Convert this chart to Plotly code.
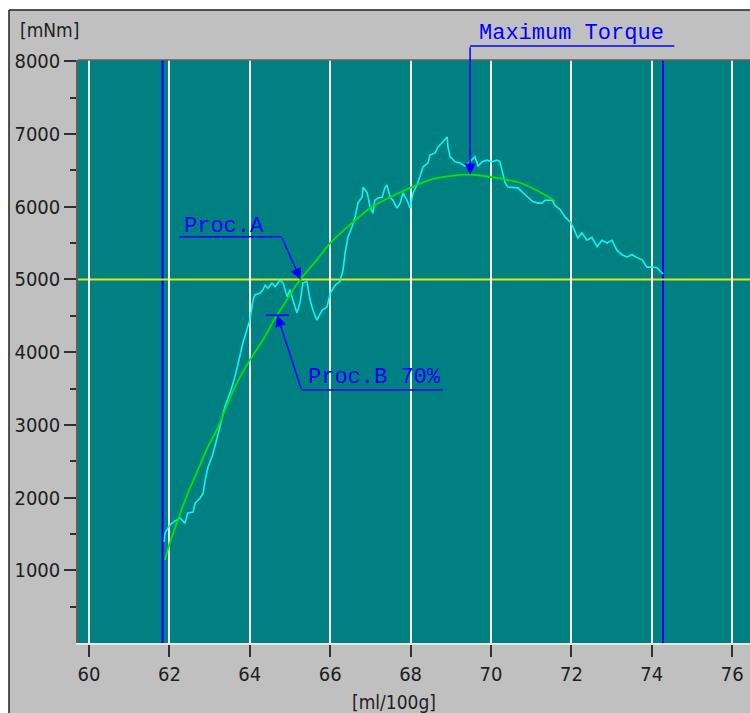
import plotly.graph_objects as go

# ---- measured torque (cyan) ----
meas_x = [61.87, 61.89, 62.01, 62.09, 62.26, 62.39, 62.46, 62.59, 62.64, 62.76,
          62.84, 62.89, 62.96, 63.06, 63.13, 63.21, 63.31, 63.38, 63.51, 63.63,
          63.83, 64.00, 64.08, 64.13, 64.25, 64.33, 64.38, 64.45, 64.55, 64.63,
          64.75, 64.83, 64.93, 65.00, 65.07, 65.17, 65.25, 65.32, 65.42, 65.50,
          65.57, 65.67, 65.80, 65.92, 66.00, 66.12, 66.24, 66.32, 66.37, 66.44,
          66.54, 66.62, 66.69, 66.79, 66.82, 66.92, 66.99, 67.06, 67.11, 67.19,
          67.29, 67.36, 67.41, 67.49, 67.56, 67.66, 67.74, 67.81, 67.91, 67.99,
          68.06, 68.16, 68.23, 68.31, 68.43, 68.48, 68.61, 68.68, 68.78, 68.91,
          68.93, 68.98, 69.10, 69.23, 69.35, 69.48, 69.60, 69.68, 69.78, 69.90,
          70.02, 70.15, 70.22, 70.27, 70.35, 70.42, 70.55, 70.67, 70.80, 70.92,
          71.04, 71.17, 71.27, 71.34, 71.42, 71.52, 71.59, 71.72, 71.84, 71.97,
          72.04, 72.16, 72.26, 72.39, 72.51, 72.64, 72.76, 72.89, 73.01, 73.13,
          73.26, 73.38, 73.51, 73.63, 73.76, 73.88, 74.00, 74.13, 74.28]
meas_y = [1390, 1510, 1620, 1660, 1720, 1650, 1790, 1800, 1925, 1990,
          2060, 2240, 2420, 2560, 2700, 2890, 3110, 3250, 3440, 3660,
          4130, 4440, 4720, 4790, 4810, 4860, 4920, 4880, 4950, 4900,
          4990, 4950, 4760, 4860, 4720, 4540, 4680, 4950, 4970, 4720,
          4580, 4440, 4580, 4620, 4810, 4920, 4970, 5130, 5360, 5580,
          5720, 5860, 6050, 6130, 6270, 6190, 6000, 5910, 6090, 6120,
          6130, 6260, 6300, 6130, 6090, 5980, 6050, 6190, 6090, 5980,
          6190, 6300, 6410, 6550, 6600, 6710, 6740, 6820, 6880, 6960,
          6820, 6690, 6620, 6600, 6560, 6620, 6690, 6560, 6620, 6640,
          6620, 6640, 6620, 6510, 6330, 6270, 6270, 6260, 6190, 6130,
          6070, 6050, 6050, 6090, 6090, 6090, 6020, 5960, 5860, 5790,
          5720, 5570, 5640, 5540, 5580, 5450, 5540, 5500, 5540, 5400,
          5340, 5310, 5340, 5300, 5270, 5170, 5170, 5160, 5075]

# ---- fitted torque curve (green) ----
fit_x = [61.89, 62.01, 62.21, 62.46, 62.71, 62.96, 63.21, 63.38, 63.63, 64.00,
         64.33, 64.58, 64.83, 65.07, 65.30, 65.67, 66.00, 66.49, 66.99, 67.49,
         67.99, 68.48, 68.98, 69.48, 70.22, 70.72, 71.22, 71.59]
fit_y = [1140, 1375, 1690, 2060, 2380, 2700, 2970, 3200, 3520, 3890,
         4170, 4420, 4640, 4850, 5030, 5270, 5500, 5750, 5980, 6130,
         6260, 6370, 6420, 6440, 6390, 6330, 6200, 6080]

# ---- reference levels ----
limit_x = [61.83, 74.28]      # blue evaluation limits
threshold = 5000              # yellow level (Proc.A)
proc_b_pct = 0.70             # Proc.B fraction of maximum torque

x_ticks = [60, 62, 64, 66, 68, 70, 72, 74, 76]
y_ticks = [1000, 2000, 3000, 4000, 5000, 6000, 7000, 8000]
y_minor = [500, 1500, 2500, 3500, 4500, 5500, 6500, 7500]

X_RANGE = [59.726, 76.443]
Y_RANGE = [0, 8018]

TEAL = "#008080"
GREY = "#c0c0c0"
BLUE = "#0000ff"
NARROW = "Liberation Sans Narrow, DejaVu Sans Condensed, Arial Narrow, Liberation Sans, sans-serif"
MONO = "Liberation Mono, Courier New, monospace"


def cross_x(xs, ys, level):
    """x where the rising part of the curve first reaches `level`."""
    for i in range(1, len(xs)):
        if ys[i - 1] <= level <= ys[i]:
            t = (level - ys[i - 1]) / (ys[i] - ys[i - 1])
            return xs[i - 1] + t * (xs[i] - xs[i - 1])
    return xs[0]


i_max = max(range(len(fit_y)), key=lambda i: fit_y[i])
max_x, max_y = fit_x[i_max], fit_y[i_max]
a_x = cross_x(fit_x, fit_y, threshold)
b_y = proc_b_pct * max_y
b_x = cross_x(fit_x, fit_y, b_y)

fig = go.Figure()

fig.add_trace(go.Scatter(x=meas_x, y=meas_y, mode="lines",
                         line=dict(color="#10f4f4", width=1.6),
                         hoverinfo="skip", showlegend=False))
fig.add_trace(go.Scatter(x=fit_x, y=fit_y, mode="lines",
                         line=dict(color="#00e600", width=1.8, shape="spline", smoothing=0.8),
                         hoverinfo="skip", showlegend=False))

shapes = []
# evaluation limits and threshold
for lx in limit_x:
    shapes.append(dict(type="line", xref="x", yref="paper", x0=lx, x1=lx, y0=0, y1=1,
                       line=dict(color=BLUE, width=2), layer="between"))
shapes.append(dict(type="line", xref="paper", yref="y", x0=0, x1=1, y0=threshold, y1=threshold,
                   line=dict(color="#e8e800", width=2), layer="between"))

# frame of the panel
shapes += [
    dict(type="rect", xref="paper", yref="paper", x0=-0.2, x1=-0.1027, y0=-0.3, y1=1.3,
         fillcolor="white", line=dict(width=0)),
    dict(type="rect", xref="paper", yref="paper", x0=-0.2, x1=1.2, y0=1.0858, y1=1.3,
         fillcolor="white", line=dict(width=0)),
    dict(type="line", xref="paper", yref="paper", x0=-0.1027, x1=-0.1027, y0=-0.3, y1=1.0858,
         line=dict(color="#202020", width=1.5)),
    dict(type="line", xref="paper", yref="paper", x0=-0.1027, x1=1.2, y0=1.0858, y1=1.0858,
         line=dict(color="#202020", width=1.5)),
    dict(type="line", xref="paper", yref="paper", x0=0, x1=1, y0=1, y1=1,
         line=dict(color="#606060", width=1.5)),
]

# callout underlines
shapes.append(dict(type="line", xref="x", yref="paper", x0=max_x, x1=74.56, y0=1.024, y1=1.024,
                   line=dict(color=BLUE, width=1.5)))
shapes.append(dict(type="line", xref="x", yref="y", x0=62.25, x1=64.79, y0=5588, y1=5588,
                   line=dict(color=BLUE, width=1.5)))
shapes.append(dict(type="line", xref="x", yref="y", x0=65.29, x1=68.80, y0=3480, y1=3480,
                   line=dict(color=BLUE, width=1.5)))
# Proc.B marker bar
shapes.append(dict(type="line", xref="x", yref="y", x0=b_x - 0.28, x1=b_x + 0.30, y0=b_y, y1=b_y,
                   line=dict(color=BLUE, width=1.5)))

annotations = [
    # arrows
    dict(x=max_x, y=max_y, xref="x", yref="y", ax=0, ay=-129, text="", showarrow=True,
         arrowhead=2, arrowsize=1.5, arrowwidth=1.5, arrowcolor=BLUE, standoff=0),
    dict(x=a_x, y=threshold, xref="x", yref="y", ax=64.79, ay=5588, axref="x", ayref="y",
         text="", showarrow=True, arrowhead=2, arrowsize=1.5, arrowwidth=1.5,
         arrowcolor=BLUE, standoff=0),
    dict(x=b_x, y=b_y, xref="x", yref="y", ax=65.29, ay=3480, axref="x", ayref="y",
         text="", showarrow=True, arrowhead=2, arrowsize=1.5, arrowwidth=1.5,
         arrowcolor=BLUE, standoff=0),
    # labels
    dict(x=69.66, y=1.0458, xref="x", yref="paper", text="Maximum Torque", showarrow=False,
         xanchor="left", yanchor="middle", font=dict(family=MONO, size=22, color=BLUE)),
    dict(x=62.31, y=5735, xref="x", yref="y", text="Proc.A", showarrow=False,
         xanchor="left", yanchor="middle", font=dict(family=MONO, size=22, color=BLUE)),
    dict(x=65.41, y=3658, xref="x", yref="y", text="Proc.B 70%", showarrow=False,
         xanchor="left", yanchor="middle", font=dict(family=MONO, size=22, color=BLUE)),
    # axis units
    dict(x=-0.0417, y=1.0523, xref="paper", yref="paper", text="[mNm]", showarrow=False,
         xanchor="center", yanchor="middle", font=dict(family=NARROW, size=19, color="#202020")),
    dict(x=0.4695, y=-0.1010, xref="paper", yref="paper", text="[ml/100g]", showarrow=False,
         xanchor="center", yanchor="middle", font=dict(family=NARROW, size=19, color="#202020")),
]

fig.update_layout(
    width=750, height=713,
    margin=dict(l=78, r=0, t=60, b=70),
    paper_bgcolor=GREY, plot_bgcolor=TEAL,
    shapes=shapes, annotations=annotations,
    showlegend=False,
    xaxis=dict(range=X_RANGE, tickmode="array", tickvals=x_ticks,
               ticktext=[str(v) for v in x_ticks],
               ticks="outside", ticklen=12, tickwidth=1.5, tickcolor="#303030",
               showgrid=True, gridcolor="#f4fafa", gridwidth=1.6, zeroline=False,
               showline=True, linecolor="#e6e6e6", linewidth=1.5,
               tickfont=dict(family=NARROW, size=20, color="#202020")),
    yaxis=dict(range=Y_RANGE, tickmode="array", tickvals=y_ticks,
               ticktext=[str(v) for v in y_ticks],
               ticks="outside", ticklen=12, tickwidth=1.5, tickcolor="#303030",
               minor=dict(tickvals=y_minor, ticks="outside", ticklen=6, tickwidth=1.5,
                          tickcolor="#303030", showgrid=False),
               showgrid=False, zeroline=False,
               showline=True, linecolor="#606060", linewidth=1.5,
               tickfont=dict(family=NARROW, size=20, color="#202020")),
)

fig.write_html("out.html")
